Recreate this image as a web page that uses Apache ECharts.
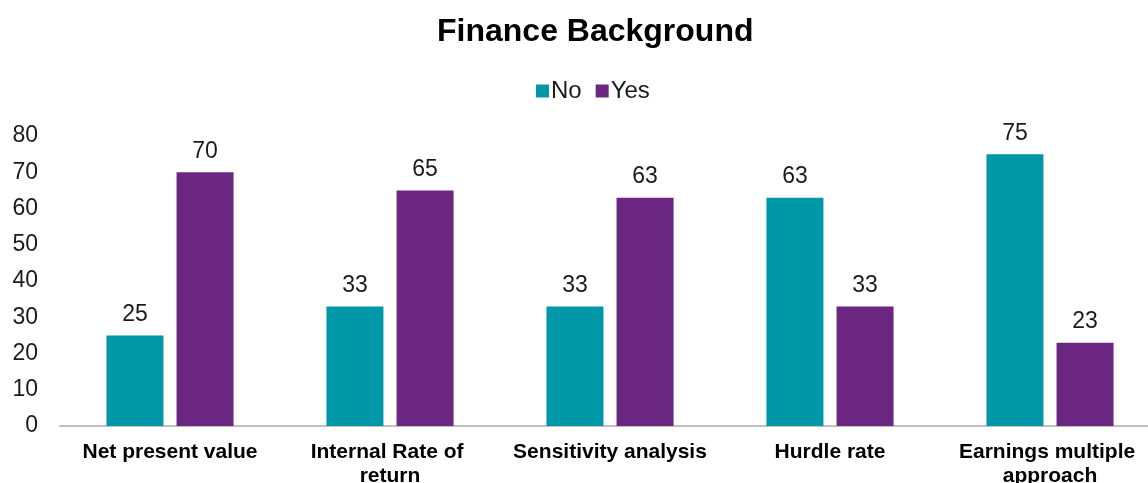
<!DOCTYPE html>
<html>
<head>
<meta charset="utf-8">
<script src="https://cdn.jsdelivr.net/npm/echarts@6/dist/echarts.min.js"></script>
<style>html,body{margin:0;padding:0;background:#fff}#c{width:1148px;height:483px}</style>
</head>
<body>
<div id="c"></div>
<script>
const categories = ["Net present value", "Internal Rate of return", "Sensitivity analysis", "Hurdle rate", "Earnings multiple approach"];
const noValues = [25, 33, 33, 63, 75];
const yesValues = [70, 65, 63, 33, 23];
const yTicks = [0, 10, 20, 30, 40, 50, 60, 70, 80];

const chart = echarts.init(document.getElementById('c'));
const font = 'Liberation Sans, Arial, sans-serif';
const labelCfg = {show: true, position: 'top', distance: 9, color: '#1a1a1a', fontSize: 23, fontFamily: font};
chart.setOption({
  animation: false,
  title: {text: 'Finance Background', left: 432, top: 11,
    textStyle: {fontSize: 32, fontWeight: 'bold', color: '#000', fontFamily: font}},
  legend: {top: 74, left: 531, itemWidth: 13, itemHeight: 13, itemGap: 14, icon: 'rect',
    textStyle: {fontSize: 24, color: '#1a1a1a', fontFamily: font, padding: [0, 0, 0, -3]}},
  grid: {left: 60, top: 136, width: 1100, bottom: 57, outerBoundsMode: 'none', containLabel: false},
  xAxis: {type: 'category', data: categories,
    axisLine: {lineStyle: {color: '#c0c0c0', width: 2}}, axisTick: {show: false},
    axisLabel: {interval: 0, fontSize: 21, fontWeight: 'bold', color: '#000', fontFamily: font, margin: 14,
      width: 205, overflow: 'break', lineHeight: 24}},
  yAxis: {type: 'value', min: yTicks[0], max: yTicks[yTicks.length - 1], interval: 10,
    splitLine: {show: false}, axisLine: {show: false}, axisTick: {show: false},
    axisLabel: {fontSize: 23, color: '#1a1a1a', fontFamily: font, margin: 22}},
  series: [
    {name: 'No', type: 'bar', data: noValues, barWidth: 57, barGap: '23%', itemStyle: {color: '#0098A8'}, label: labelCfg},
    {name: 'Yes', type: 'bar', data: yesValues, barWidth: 57, itemStyle: {color: '#6A2680'}, label: labelCfg}
  ]
});
</script>
</body>
</html>
